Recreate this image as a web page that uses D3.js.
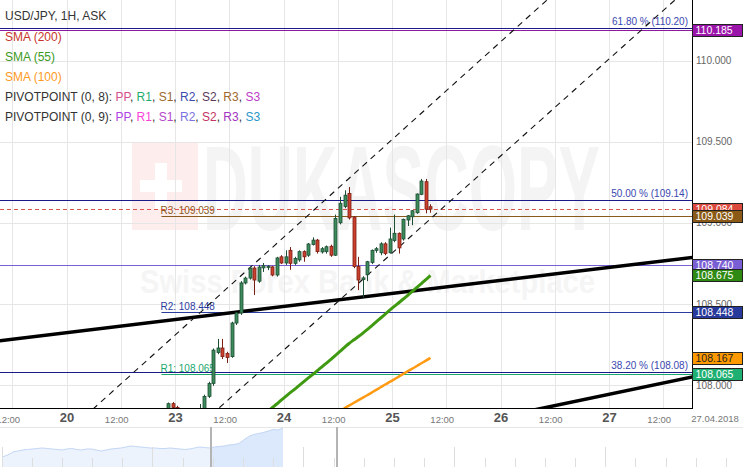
<!DOCTYPE html>
<html><head><meta charset="utf-8">
<script src="https://cdn.jsdelivr.net/npm/d3@7"></script>
<style>body{margin:0;background:#fff}svg{display:block;font-family:"Liberation Sans",Arial,sans-serif}</style>
</head><body><svg id="c" width="743" height="467"></svg>
<script>
// ---- data ----
const hours = [-2,-1,0,1,2,3,4,5,6,7,8,9,10,11,12,13,14,15,16,17,18,19,20,21,22,23,24,25,26,27,28,29,30,31,32,33,34,35,36,37,38,39,40,41,42,43,44,45,46,47,48,49,50,51,52,53,54,55,56];
const opens = [107.850,107.885,107.862,107.845,107.815,107.800,107.830,107.840,107.852,107.930,108.010,108.200,108.228,108.195,108.175,108.382,108.444,108.629,108.659,108.721,108.640,108.722,108.725,108.728,108.678,108.790,108.752,108.830,108.750,108.771,108.822,108.800,108.866,108.893,108.820,108.822,108.855,108.800,109.000,109.100,109.180,109.035,108.730,108.650,108.680,108.755,108.830,108.815,108.870,108.815,108.890,108.935,108.900,109.017,109.037,109.062,109.175,109.253,109.099];
const highs = [107.892,107.895,107.872,107.850,107.830,107.835,107.850,107.883,107.940,108.020,108.225,108.284,108.284,108.205,108.390,108.450,108.640,108.668,108.730,108.732,108.740,108.752,108.738,108.733,108.790,108.800,108.830,108.850,108.790,108.830,108.830,108.875,108.910,108.900,108.850,108.860,108.865,109.050,109.160,109.200,109.220,109.040,108.790,108.670,108.765,108.835,108.850,108.880,108.880,108.970,109.050,108.940,109.025,109.048,109.078,109.180,109.270,109.270,109.114];
const lows = [107.840,107.850,107.830,107.800,107.790,107.795,107.820,107.830,107.848,107.920,107.995,108.190,108.160,108.136,108.168,108.370,108.432,108.620,108.650,108.555,108.630,108.697,108.708,108.670,108.668,108.745,108.740,108.710,108.740,108.760,108.760,108.790,108.860,108.810,108.810,108.810,108.790,108.795,108.990,109.090,109.020,108.720,108.585,108.540,108.640,108.745,108.815,108.800,108.800,108.810,108.880,108.810,108.890,108.980,108.985,109.055,109.170,109.058,109.062];
const closes = [107.885,107.862,107.845,107.815,107.800,107.830,107.840,107.852,107.930,108.010,108.215,108.228,108.175,108.170,108.382,108.444,108.629,108.659,108.721,108.647,108.727,108.735,108.732,108.678,108.783,108.752,108.790,108.750,108.780,108.822,108.790,108.869,108.893,108.822,108.840,108.852,108.800,109.027,109.120,109.170,109.030,108.730,108.647,108.660,108.760,108.830,108.840,108.870,108.810,108.900,108.935,108.845,109.021,109.043,109.074,109.177,109.257,109.083,109.084];

const sma55Hours = [20,21,22,23,24,25,26,27,28,29,30,31,32,33,34,35,36,37,38,39,40,41,42,43,44,45,46,47,48,49,50,51,52,53,54,55,56];
const sma55 = [107.836,107.860,107.883,107.907,107.930,107.953,107.975,107.998,108.021,108.044,108.066,108.089,108.112,108.135,108.158,108.183,108.207,108.232,108.256,108.277,108.297,108.318,108.341,108.365,108.389,108.413,108.437,108.461,108.485,108.507,108.530,108.553,108.577,108.601,108.625,108.650,108.675];
const sma100Hours = [36,37,38,39,40,41,42,43,44,45,46,47,48,49,50,51,52,53,54,55,56];
const sma100 = [107.840,107.857,107.873,107.889,107.905,107.921,107.937,107.953,107.970,107.986,108.003,108.019,108.035,108.052,108.069,108.085,108.101,108.117,108.134,108.150,108.167];

// trend lines: [hourA, priceA, hourB, priceB]
const trendLines = [[-40,108.269,116,108.792],[78,107.838,116,108.059]];
const channelLines = [[-20,107.805,85,110.441],[8,107.815,113,110.433]];

const fibValues = [110.20,109.14,108.08];
const fibLabels = ["61.80 % (110.20)","50.00 % (109.14)","38.20 % (108.08)"];
const pivotValues = [109.039,108.448,108.065];
const pivotLabels = ["R3: 109.039","R2: 108.448","R1: 108.065"];
const pivotColors = ["#8a5a1c","#2c3c9e","#1aa86e"];
const pivotStartHour = -3;
const fullLineValues = [110.185,108.740];
const fullLineColors = ["#8e1a9e","#7a5ed4"];
const lastPrice = 109.084;

const boxValues = [110.185,109.084,109.039,108.740,108.675,108.448,108.167,108.065];
const boxColors = ["#9b14aa","#db4a3c","#8a5a16","#7a5ed4","#2f8a14","#28399c","#ff9900","#1db072"];
const boxText = ["#fff","#fff","#fff","#fff","#fff","#fff","#222","#fff"];

const yTicks = [108,108.5,109,109.5,110];
const xTickHours = [-36,-24,-12,0,12,24,36,48,60,72,84,96,108];
const xTickLabels = ["12:00","20","12:00","23","12:00","24","12:00","25","12:00","26","12:00","27","12:00"];
const dateLabel = "27.04.2018";

const navValues = [106.53,106.7,107.0,107.1,107.2,107.25,107.3,107.35,107.4,107.35,107.3,107.25,107.2,107.3,107.35,107.25,107.2,107.3,107.3,107.2,107.1,107.2,107.3,107.35,107.4,107.5,107.6,107.55,107.5,107.45,107.4,107.4,107.35,107.35,107.4,107.35,107.3,107.25,107.3,107.4,107.5,107.45,107.4,107.5,107.55,107.6,107.7,107.75,107.85,108.2,108.55,108.75,108.85,108.95,109.1,109.25,109.2,109.4];

const legendRows = ["USD/JPY, 1H, ASK","SMA (200)","SMA (55)","SMA (100)"];
const legendColors = ["#333","#c8352c","#3c9a1c","#ff9a1e"];
const pivotNames = ["PP","R1","S1","R2","S2","R3","S3"];
const pivot8Colors = ["#d6508c","#1fae6e","#9a6a2c","#3b4bab","#5c3a5e","#a06a2c","#c03cc8"];
const pivot9Colors = ["#b044e4","#ff44dc","#b448cc","#7a72e0","#c43464","#a236c2","#2a98c8"];

// ---- drawing ----
const W=743,H=467,PW=692,PH=408;
const svg = d3.select("#c");
const x = d3.scaleLinear().domain([0,96]).range([175,609]);
const y = d3.scaleLinear().domain([108,110]).range([385,60.5]);
svg.append("rect").attr("width",W).attr("height",H).attr("fill","#fff");
const defs = svg.append("defs");
defs.append("clipPath").attr("id","plot").append("rect").attr("width",PW).attr("height",PH);
const plot = svg.append("g").attr("clip-path","url(#plot)");

// watermark
const wm = plot.append("g");
wm.append("rect").attr("x",132).attr("y",143).attr("width",66).attr("height",87).attr("fill","#fdeded");
wm.append("rect").attr("x",155).attr("y",163).attr("width",12).attr("height",46).attr("fill","#fff");
wm.append("rect").attr("x",140).attr("y",180).attr("width",42).attr("height",12).attr("fill","#fff");
wm.append("text").attr("x",203).attr("y",230).text("DUKASCOPY").attr("font-size",120).attr("font-weight","bold")
  .attr("fill","#f4f4f4").attr("textLength",397).attr("lengthAdjust","spacingAndGlyphs");
wm.append("text").attr("x",140).attr("y",293).text("Swiss Forex Bank & Marketplace").attr("font-size",33).attr("font-weight","bold")
  .attr("fill","#f5f5f5").attr("textLength",455).attr("lengthAdjust","spacingAndGlyphs");

// grid
plot.append("g").selectAll("line").data(xTickHours).join("line")
  .attr("x1",d=>Math.round(x(d))+0.5).attr("x2",d=>Math.round(x(d))+0.5).attr("y1",0).attr("y2",PH)
  .attr("stroke","#e6e6e6");
plot.append("g").selectAll("line").data(yTicks).join("line")
  .attr("y1",d=>Math.round(y(d))+0.5).attr("y2",d=>Math.round(y(d))+0.5).attr("x1",0).attr("x2",PW)
  .attr("stroke","#e6e6e6");

// horizontal levels
const lv = plot.append("g");
lv.selectAll(".full").data(fullLineValues).join("line").attr("class","full")
  .attr("x1",0).attr("x2",PW).attr("y1",d=>Math.round(y(d))+0.5).attr("y2",d=>Math.round(y(d))+0.5)
  .attr("stroke",(d,i)=>fullLineColors[i]).attr("stroke-width",1);
lv.selectAll(".fib").data(fibValues).join("line").attr("class","fib")
  .attr("x1",0).attr("x2",PW).attr("y1",d=>Math.round(y(d))+0.5).attr("y2",d=>Math.round(y(d))+0.5)
  .attr("stroke","#1a1a8a");
lv.selectAll(".fibt").data(fibValues).join("text").attr("class","fibt")
  .attr("x",688).attr("y",d=>y(d)-3).attr("text-anchor","end").attr("font-size",10).attr("fill","#3a48b0")
  .text((d,i)=>fibLabels[i]);
lv.selectAll(".piv").data(pivotValues).join("line").attr("class","piv")
  .attr("x1",x(pivotStartHour)).attr("x2",PW).attr("y1",d=>Math.round(y(d))+0.5).attr("y2",d=>Math.round(y(d))+0.5)
  .attr("stroke",(d,i)=>pivotColors[i]);
lv.selectAll(".pivt").data(pivotValues).join("text").attr("class","pivt")
  .attr("x",x(pivotStartHour)-1).attr("y",d=>y(d)-2.5).attr("font-size",10).attr("fill",(d,i)=>pivotColors[i])
  .text((d,i)=>pivotLabels[i]);
lv.append("line").attr("x1",0).attr("x2",PW).attr("y1",Math.round(y(lastPrice))+0.5).attr("y2",Math.round(y(lastPrice))+0.5)
  .attr("stroke","#d9534f").attr("stroke-dasharray","4,3");

// trend & channel lines
plot.append("g").selectAll("line").data(trendLines).join("line")
  .attr("x1",d=>x(d[0])).attr("y1",d=>y(d[1])).attr("x2",d=>x(d[2])).attr("y2",d=>y(d[3]))
  .attr("stroke","#000").attr("stroke-width",3.5);
plot.append("g").selectAll("line").data(channelLines).join("line")
  .attr("x1",d=>x(d[0])).attr("y1",d=>y(d[1])).attr("x2",d=>x(d[2])).attr("y2",d=>y(d[3]))
  .attr("stroke","#111").attr("stroke-width",1.1).attr("stroke-dasharray","6,5");

// SMAs
const lineGen = (hs)=>d3.line().x((d,i)=>x(hs[i]+0.5)).y(d=>y(d)).curve(d3.curveMonotoneX);
plot.append("path").datum(sma100).attr("d",lineGen(sma100Hours)).attr("fill","none").attr("stroke","#ff9a12").attr("stroke-width",2.5);
plot.append("path").datum(sma55).attr("d",lineGen(sma55Hours)).attr("fill","none").attr("stroke","#3f9a12").attr("stroke-width",3);

// candles
const candles = hours.map((h,i)=>({h,o:opens[i],hi:highs[i],lo:lows[i],c:closes[i]}));
const cg = plot.append("g");
const cgs = cg.selectAll("g").data(candles).join("g");
cgs.append("line").attr("x1",d=>Math.round(x(d.h+0.5))+0.5).attr("x2",d=>Math.round(x(d.h+0.5))+0.5)
  .attr("y1",d=>y(d.hi)).attr("y2",d=>y(d.lo)).attr("stroke",d=>d.c>=d.o?"#1d4d33":"#7a1e12");
cgs.append("rect").attr("x",d=>Math.round(x(d.h+0.5))-1).attr("width",3)
  .attr("y",d=>y(Math.max(d.o,d.c))).attr("height",d=>Math.max(1,y(Math.min(d.o,d.c))-y(Math.max(d.o,d.c))))
  .attr("fill",d=>d.c>=d.o?"#3b8b5b":"#cc402e").attr("stroke",d=>d.c>=d.o?"#1d4d33":"#7a1e12").attr("stroke-width",0.8);

// frame
svg.append("line").attr("x1",PW+0.5).attr("x2",PW+0.5).attr("y1",0).attr("y2",PH+1).attr("stroke","#000");
svg.append("line").attr("x1",0).attr("x2",PW+1).attr("y1",PH+0.5).attr("y2",PH+0.5).attr("stroke","#000");

// y axis
const ya = svg.append("g").attr("transform",`translate(${PW},0)`)
  .call(d3.axisRight(y).tickValues(yTicks).tickFormat(d3.format(".3f")).tickSize(0).tickPadding(4));
ya.select(".domain").remove();
ya.selectAll("text").attr("font-size",10).attr("fill","#666").attr("font-family","Liberation Sans, Arial, sans-serif");

// price boxes
const bx = svg.append("g").selectAll("g").data(boxValues).join("g");
bx.append("rect").attr("x",PW+0.5).attr("y",d=>Math.round(y(d)-6)+0.5).attr("width",50).attr("height",12)
  .attr("fill",(d,i)=>boxColors[i]).attr("stroke","#222");
bx.append("text").attr("x",PW+3.5).attr("y",d=>y(d)).attr("dy","0.36em").attr("font-size",10.5)
  .attr("fill",(d,i)=>boxText[i]).text(d=>d3.format(".3f")(d));

// x axis
const xa = svg.append("g").attr("transform",`translate(0,${PH})`)
  .call(d3.axisBottom(x).tickValues(xTickHours).tickFormat((d,i)=>xTickLabels[i]).tickSize(0).tickPadding(5));
xa.select(".domain").remove();
xa.selectAll("text").each(function(d,i){
  const t = d3.select(this).attr("font-family","Liberation Sans, Arial, sans-serif");
  if (xTickLabels[i].includes(":")) t.attr("font-size",9.5).attr("fill","#777").attr("dx",-4.5).attr("dy","1.0em");
  else t.attr("font-size",13).attr("font-weight","bold").attr("fill","#555").attr("dy","0.71em");
});
svg.append("text").attr("x",715).attr("y",422).attr("text-anchor","middle").attr("font-size",9.5).attr("fill","#777").text(dateLabel);

// navigator
const navTop = 427;
svg.append("line").attr("x1",0).attr("x2",W).attr("y1",navTop+0.5).attr("y2",navTop+0.5).attr("stroke","#e6e6e6");
const nx = d3.scaleLinear().domain([0,navValues.length-1]).range([3,283]);
const ny = d3.scaleLinear().domain([105.5,109.5]).range([467,427]);
const area = d3.area().x((d,i)=>nx(i)).y0(H).y1(d=>ny(d));
const line = d3.line().x((d,i)=>nx(i)).y(d=>ny(d));
svg.append("path").datum(navValues).attr("d",area).attr("fill","#edf3fd");
defs.append("clipPath").attr("id","navsel").append("rect").attr("x",211).attr("y",navTop).attr("width",126).attr("height",H-navTop);
svg.append("path").datum(navValues).attr("d",area).attr("fill","#dce8fb").attr("clip-path","url(#navsel)");
svg.append("path").datum(navValues).attr("d",line).attr("fill","none").attr("stroke","#c2d6f5").attr("stroke-width",1);
const navTicks = d3.range(0,25);
const nt = d3.scaleLinear().domain([0,24]).range([1.5,726]);
svg.append("g").selectAll("line").data(navTicks).join("line")
  .attr("x1",d=>Math.round(nt(d))+0.5).attr("x2",d=>Math.round(nt(d))+0.5)
  .attr("y1",d=>d%5===0?447:458).attr("y2",H).attr("stroke","#dedede");
svg.append("g").selectAll("line").data([211,337]).join("line")
  .attr("x1",d=>d).attr("x2",d=>d).attr("y1",navTop).attr("y2",H).attr("stroke","#b4b4b4").attr("stroke-width",2);

// legend
const lg = svg.append("g").attr("font-size",12);
const legendY = [19.5,40.5,60.5,80.5,101,121];
lg.selectAll(".lr").data(legendRows).join("text").attr("class","lr").attr("x",5).attr("y",(d,i)=>legendY[i])
  .attr("fill",(d,i)=>legendColors[i]).text(d=>d);
[[8,pivot8Colors],[9,pivot9Colors]].forEach(([n,cols],k)=>{
  const t = lg.append("text").attr("x",5).attr("y",legendY[4+k]).attr("fill","#333");
  t.append("tspan").text(`PIVOTPOINT (0, ${n}): `);
  pivotNames.forEach((p,j)=>{
    t.append("tspan").attr("fill",cols[j]).text(p);
    if (j<pivotNames.length-1) t.append("tspan").attr("fill","#333").text(", ");
  });
});
</script></body></html>
